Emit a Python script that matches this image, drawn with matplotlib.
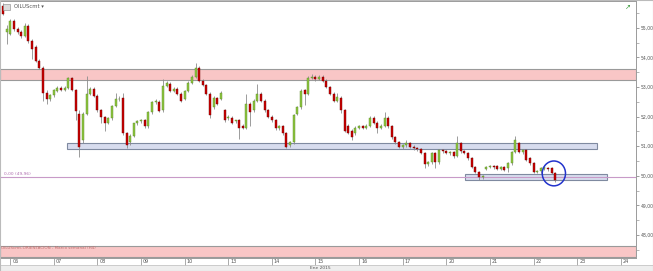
import numpy as np
import matplotlib
matplotlib.use("Agg")
import matplotlib.pyplot as plt
from matplotlib.patches import Rectangle, Ellipse
from matplotlib.transforms import ScaledTranslation

# ---------------- data ----------------
opens = [55.74, 54.85, 54.80, 55.24, 54.97, 54.87, 54.73, 55.07, 54.56, 54.36,
         53.89, 53.65, 52.81, 52.58, 52.72, 52.88, 52.98, 52.91, 52.98, 53.30,
         52.90, 52.10, 51.20, 52.10, 52.78, 52.95, 52.71, 52.21, 51.98, 51.80,
         51.94, 52.37, 52.58, 52.64, 51.43, 51.13, 51.36, 51.77, 51.84, 51.87,
         51.67, 52.14, 52.48, 52.50, 52.21, 53.05, 53.11, 52.88, 52.95, 52.78,
         52.60, 52.88, 53.15, 53.35, 53.65, 53.22, 53.08, 52.78, 52.31, 52.64,
         52.61, 52.21, 51.94, 51.97, 51.84, 51.87, 51.70, 51.63, 52.44, 52.21,
         52.54, 52.78, 52.54, 52.21, 52.00, 51.87, 51.60, 51.67, 51.43, 51.03,
         51.13, 52.10, 52.31, 52.90, 52.78, 53.32, 53.35, 53.28, 53.35, 53.22,
         53.01, 52.78, 52.54, 52.64, 52.21, 51.70, 51.53, 51.43, 51.63, 51.67,
         51.63, 51.70, 51.97, 51.80, 51.63, 51.70, 51.97, 51.67, 51.30, 51.13,
         50.99, 51.03, 51.10, 50.99, 50.93, 50.90, 50.76, 50.39, 50.45, 50.76,
         50.45, 50.86, 50.83, 50.76, 50.80, 50.66, 51.10, 50.83, 50.76, 50.59,
         50.29, 50.12, 49.95, 50.22, 50.29, 50.32, 50.32, 50.22, 50.29, 50.25,
         50.42, 50.80, 51.10, 50.80, 50.86, 50.59, 50.42, 50.12, 50.15, 50.22,
         50.25, 50.25, 50.09]
highs = [55.84, 55.10, 55.30, 55.30, 55.02, 54.92, 55.15, 55.12, 54.62, 54.42,
         53.95, 53.70, 52.90, 52.78, 52.95, 53.02, 53.04, 53.02, 53.33, 53.33,
         52.95, 52.21, 52.15, 53.38, 53.00, 53.00, 52.76, 52.26, 52.02, 51.98,
         52.40, 52.81, 52.70, 52.81, 51.48, 51.40, 51.80, 51.88, 51.92, 51.92,
         52.18, 52.52, 52.60, 52.56, 53.28, 53.20, 53.16, 53.00, 53.00, 52.82,
         52.90, 53.19, 53.40, 53.82, 53.70, 53.27, 53.12, 52.82, 52.70, 52.68,
         52.86, 52.26, 52.04, 52.02, 51.90, 51.92, 51.75, 52.78, 52.50, 52.58,
         53.11, 52.82, 52.58, 52.26, 52.05, 51.92, 51.72, 51.72, 51.48, 51.18,
         52.08, 52.36, 52.93, 52.95, 53.36, 53.45, 53.40, 53.40, 53.40, 53.26,
         53.05, 52.82, 52.81, 52.70, 52.26, 51.75, 51.58, 51.68, 51.72, 51.72,
         51.75, 52.02, 52.02, 51.85, 51.75, 52.14, 52.02, 51.72, 51.35, 51.18,
         51.08, 51.20, 51.15, 51.04, 50.98, 50.95, 50.80, 50.50, 50.80, 50.82,
         50.90, 50.92, 50.88, 50.85, 50.85, 51.33, 51.15, 50.88, 50.80, 50.63,
         50.33, 50.16, 50.02, 50.33, 50.36, 50.36, 50.36, 50.33, 50.33, 50.46,
         50.84, 51.36, 51.15, 50.90, 50.90, 50.63, 50.46, 50.20, 50.29, 50.32,
         50.30, 50.30, 50.13]
lows = [55.44, 54.45, 54.75, 54.90, 54.80, 54.65, 54.70, 54.50, 53.96, 53.85,
        53.60, 52.54, 52.44, 52.52, 52.68, 52.82, 52.86, 52.85, 52.95, 52.85,
        51.90, 50.62, 51.10, 52.05, 52.72, 52.65, 52.15, 51.80, 51.53, 51.75,
        51.90, 52.33, 52.52, 51.38, 50.93, 51.05, 51.30, 51.72, 51.78, 51.60,
        51.62, 52.10, 52.42, 52.15, 52.16, 53.00, 52.84, 52.83, 52.73, 52.48,
        52.55, 52.84, 53.10, 53.30, 53.18, 53.02, 52.72, 51.94, 52.25, 52.38,
        52.56, 51.82, 51.88, 51.75, 51.78, 51.26, 51.58, 51.58, 51.70, 52.16,
        52.50, 52.50, 52.16, 51.95, 51.82, 51.55, 51.55, 51.38, 50.93, 50.98,
        51.08, 52.05, 52.26, 52.38, 52.72, 53.28, 53.22, 53.24, 53.18, 52.96,
        52.73, 52.49, 52.50, 52.11, 51.48, 51.40, 51.20, 51.38, 51.58, 51.58,
        51.58, 51.66, 51.75, 51.46, 51.58, 51.66, 51.62, 51.25, 51.08, 50.94,
        50.92, 50.98, 50.94, 50.88, 50.85, 50.72, 50.25, 50.32, 50.40, 50.28,
        50.40, 50.78, 50.72, 50.70, 50.60, 50.62, 50.78, 50.72, 50.55, 50.25,
        50.08, 49.85, 49.90, 50.18, 50.25, 50.24, 50.18, 50.18, 50.15, 50.12,
        50.38, 50.76, 50.76, 50.75, 50.50, 50.38, 50.08, 50.08, 50.10, 50.18,
        50.16, 50.05, 49.78]
closes = [55.47, 54.95, 55.24, 54.97, 54.87, 54.73, 55.07, 54.56, 54.29, 53.89,
          53.65, 52.81, 52.58, 52.72, 52.90, 52.98, 52.91, 52.98, 53.30, 52.90,
          52.20, 50.96, 52.10, 52.78, 52.95, 52.71, 52.21, 51.98, 51.80, 51.94,
          52.37, 52.58, 52.61, 51.43, 51.03, 51.36, 51.77, 51.84, 51.87, 51.67,
          52.14, 52.48, 52.54, 52.20, 53.05, 53.15, 52.88, 52.95, 52.78, 52.54,
          52.85, 53.15, 53.35, 53.65, 53.22, 53.08, 52.78, 52.04, 52.64, 52.44,
          52.81, 51.87, 52.00, 51.80, 51.87, 51.63, 51.63, 52.44, 52.14, 52.54,
          52.78, 52.54, 52.21, 52.00, 51.87, 51.60, 51.67, 51.43, 50.99, 51.13,
          52.04, 52.31, 52.88, 52.75, 53.32, 53.35, 53.28, 53.35, 53.22, 53.01,
          52.78, 52.54, 52.68, 52.21, 51.53, 51.46, 51.30, 51.63, 51.67, 51.63,
          51.70, 51.97, 51.80, 51.63, 51.70, 51.97, 51.67, 51.30, 51.13, 50.99,
          51.03, 51.10, 50.99, 50.93, 50.90, 50.76, 50.39, 50.45, 50.76, 50.45,
          50.86, 50.83, 50.76, 50.80, 50.66, 51.10, 50.83, 50.76, 50.59, 50.29,
          50.12, 49.95, 49.98, 50.29, 50.32, 50.29, 50.22, 50.29, 50.19, 50.42,
          50.80, 51.20, 50.80, 50.86, 50.55, 50.42, 50.12, 50.15, 50.25, 50.29,
          50.22, 50.09, 49.85]

day_labels = ["06", "07", "08", "09", "10", "13", "14", "15", "16", "17",
              "20", "21", "22", "23", "24"]
y_ticks = [48, 49, 50, 51, 52, 53, 54, 55]
resist_band = (53.25, 53.62)
bottom_band = (47.26, 47.63)
support_1 = (50.92, 51.10)
support_2 = (49.87, 50.07)
level_line = 49.96
level_label = "0,00 (49,96)"
symbol = "OILUScmt"
month_label = "Ene 2015"

# ---------------- figure ----------------
W, H = 653, 271
fig = plt.figure(figsize=(W / 100, H / 100), dpi=100)
fig.patch.set_facecolor("white")
ax = fig.add_axes([0, 13 / H, 636 / W, 257 / H])
ax.set_facecolor("white")

n = len(closes)
x = np.arange(n)
o = np.array(opens); c = np.array(closes)
hi = np.array(highs); lo = np.array(lows)
up = c >= o

# bands / rectangles
ax.axhspan(*resist_band, facecolor="#f9c6c6", edgecolor="#9a9a9a", lw=0.8, zorder=1)
ax.axhspan(*bottom_band, facecolor="#f9c6c6", edgecolor="#9a9a9a", lw=0.8, zorder=1)
ax.add_patch(Rectangle((17.6, support_1[0]), 163.5 - 17.6, support_1[1] - support_1[0],
                       facecolor="#d7dcee", edgecolor="#7f8aa0", lw=0.8, zorder=1))
ax.add_patch(Rectangle((127.2, support_2[0]), 166.2 - 127.2, support_2[1] - support_2[0],
                       facecolor="#d7dcee", edgecolor="#7f8aa0", lw=0.8, zorder=1))
ax.axhline(level_line, color="#c89ac8", lw=0.8, zorder=1.5)

# candles
ax.vlines(x, lo, hi, color="#8c8c8c", lw=0.6, zorder=2)
body_b = np.minimum(o, c)
body_h = np.maximum(np.abs(c - o), 0.02)
ax.bar(x[up], body_h[up], bottom=body_b[up], width=0.55, color="#8dc63f",
       edgecolor="#5d8a2a", linewidth=0.3, zorder=3)
ax.bar(x[~up], body_h[~up], bottom=body_b[~up], width=0.55, color="#cc0000",
       edgecolor="#6e0000", linewidth=0.3, zorder=3)

# circle annotation
ax.add_patch(Ellipse((151.6, 50.08), 6.4, 0.84, fill=False, edgecolor="#2233cc",
                     lw=1.1, zorder=4))

ax.set_xlim(-0.82, 174.2)
ax.set_ylim(47.22, 55.91)

# y axis on right
ax.yaxis.tick_right()
ax.set_yticks(y_ticks)
ax.set_yticklabels([f"{v:.2f}".replace(".", ",") for v in y_ticks])
ax.set_yticks([v + 0.5 for v in [47] + y_ticks], minor=True)
ax.tick_params(axis="y", which="major", length=2.5, width=0.5, colors="#777777",
               labelsize=3.3, labelcolor="#555555", pad=0.8)
ax.tick_params(axis="y", which="minor", length=1.8, width=0.5, colors="#999999")

# x axis ticks (days)
day_pos = [2 + 12 * k for k in range(len(day_labels))]
ax.set_xticks(day_pos)
ax.set_xticklabels(day_labels)
ax.tick_params(axis="x", length=7, width=0.5, colors="#888888", labelsize=3.5,
               labelcolor="#555555", pad=-6.5)
for lab in ax.get_xticklabels():
    lab.set_horizontalalignment("left")
    lab.set_transform(lab.get_transform() + ScaledTranslation(2 / 100, 0, fig.dpi_scale_trans))

for s in ax.spines.values():
    s.set_color("#9a9a9a"); s.set_linewidth(0.7)

# texts
ax.text(0.2, level_line + 0.03, level_label, fontsize=3.2, color="#b070b0",
        va="bottom", ha="left")
ax.text(-0.5, bottom_band[1] - 0.02, "OILUScmt-ORIENTACION - Marco semanal (H4)",
        fontsize=3, color="#c07070", va="top", ha="left")
fig.text(14 / W, 1 - 7 / H, symbol + " \u25be", fontsize=3.8, color="#555555",
         va="center", ha="left")
fig.add_artist(Rectangle((3 / W, 1 - 10 / H), 7 / W, 6 / H, transform=fig.transFigure,
                         facecolor="#dddddd", edgecolor="#888888", lw=0.4))
fig.text(628 / W, 1 - 7 / H, "\u2197", fontsize=5, color="#3a9a3a", va="center",
         ha="center")

# bottom grey strip and month label
fig.add_artist(Rectangle((0, 0), 1, 6 / H, transform=fig.transFigure,
                         facecolor="#eeeeee", edgecolor="#bbbbbb", lw=0.5))
fig.text(310 / W, 3 / H, month_label, fontsize=3.2, color="#555555",
         va="center", ha="left")
fig.add_artist(Rectangle((0, 0), 1, 1, transform=fig.transFigure, fill=False,
                         edgecolor="#bbbbbb", lw=0.8))

fig.savefig("out.png", dpi=100)
